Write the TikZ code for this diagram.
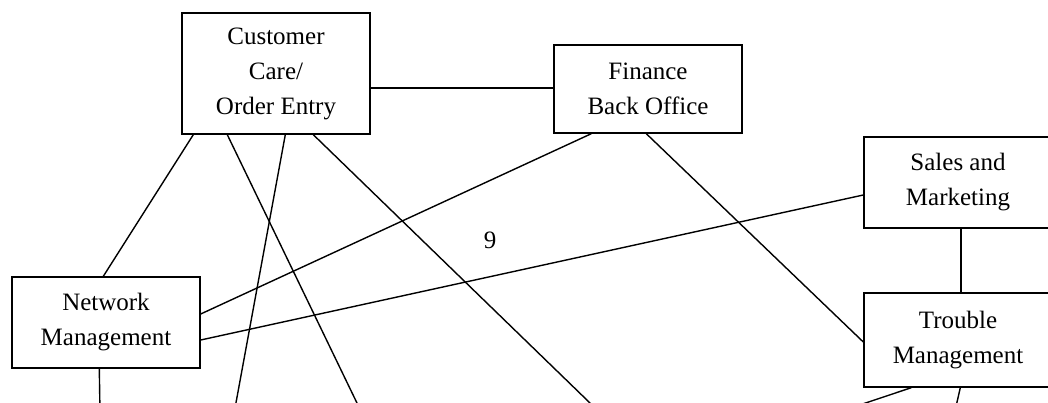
\documentclass[tikz,border=0pt]{standalone}
\usepackage{fontspec}
\setmainfont{Liberation Serif}
\begin{document}
\begin{tikzpicture}[x=1pt,y=-1pt,
  sysbox/.style={draw,line width=1.4pt,rectangle,inner sep=0pt,align=center,
    font=\fontsize{25}{35}\selectfont},
  link/.style={line width=1.4pt},
  lbltext/.style={font=\fontsize{25}{35}\selectfont,inner sep=0pt}]
\useasboundingbox (0,0) rectangle (1048,403);
\clip (0,0) rectangle (1048,403);
\node[sysbox,minimum width=188pt,minimum height=121pt] (cc) at (276,73.5) {Customer\\Care/\\Order Entry};
\node[sysbox,minimum width=188pt,minimum height=88pt] (fb) at (648,89) {Finance\\Back Office};
\node[sysbox,minimum width=188pt,minimum height=91pt] (sm) at (958,182.5) {Sales and\\Marketing};
\node[sysbox,minimum width=188pt,minimum height=94pt] (tm) at (958,340) {Trouble\\Management};
\node[sysbox,minimum width=188pt,minimum height=91pt] (nm) at (106,322.5) {Network\\Management};
\node[lbltext] (lbl) at (490,240) {9};
\coordinate (e3) at (361.8,413);
\coordinate (e4) at (234.1,413);
\coordinate (e5) at (600.3,413);
\coordinate (enm) at (100,413);
\coordinate (e9) at (835.6,413);
\coordinate (e10) at (954.5,413);
\draw[link] ([yshift=-14.5pt]cc.east) -- ([yshift=-14.5pt]cc.east -| fb.west);
\draw[link] ([xshift=12pt]cc.south west) -- ([xshift=92pt]nm.north west);
\draw[link] ([xshift=46pt]cc.south west) -- (e3);
\draw[link] ([xshift=104pt]cc.south west) -- (e4);
\draw[link] ([xshift=132pt]cc.south west) -- (e5);
\draw[link] ([xshift=88pt]nm.south west) -- (enm);
\draw[link] ([xshift=38pt]fb.south west) -- ([yshift=8.5pt]nm.east);
\draw[link] ([xshift=93pt]fb.south west) -- ([yshift=-2pt]tm.west);
\draw[link] ([yshift=-12.5pt]sm.west) -- ([yshift=-17.5pt]nm.east);
\draw[link] ([xshift=3pt]sm.south) -- ([xshift=3pt]tm.north);
\draw[link] ([xshift=48pt]tm.south west) -- (e9);
\draw[link] ([xshift=97pt]tm.south west) -- (e10);
\end{tikzpicture}
\end{document}
